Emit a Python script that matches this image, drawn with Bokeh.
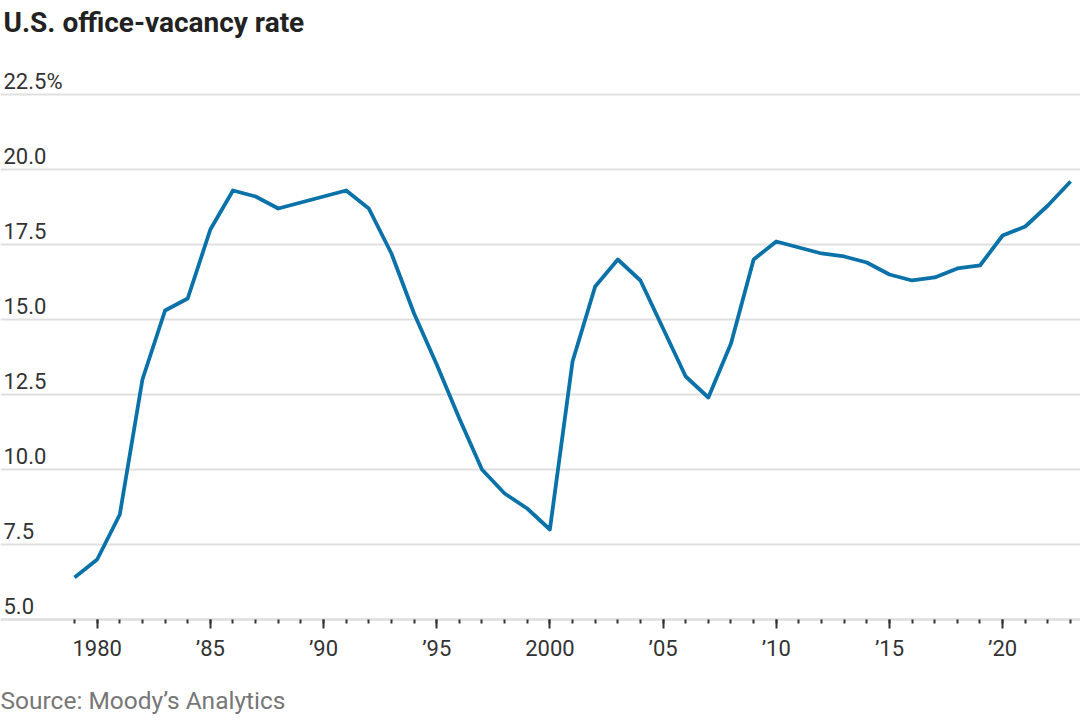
from bokeh.plotting import figure
from bokeh.models import FixedTicker, Label, ColumnDataSource, Range1d
from bokeh.core.properties import value
from bokeh.embed import file_html
from bokeh.resources import INLINE

# ---- data ----
years = list(range(1979, 2024))
vacancy = [6.4, 7.0, 8.5, 13.0, 15.3, 15.7, 18.0, 19.3, 19.1, 18.7,
           18.9, 19.1, 19.3, 18.7, 17.2, 15.2, 13.5, 11.7, 10.0, 9.2,
           8.7, 8.0, 13.6, 16.1, 17.0, 16.3, 14.7, 13.1, 12.4, 14.2,
           17.0, 17.6, 17.4, 17.2, 17.1, 16.9, 16.5, 16.3, 16.4, 16.7,
           16.8, 17.8, 18.1, 18.8, 19.6]
x_major_ticks = [1980, 1985, 1990, 1995, 2000, 2005, 2010, 2015, 2020]
x_tick_labels = ["1980", "\u201985", "\u201990", "\u201995", "2000",
                 "\u201905", "\u201910", "\u201915", "\u201920"]
y_ticks = [5.0, 7.5, 10.0, 12.5, 15.0, 17.5, 20.0, 22.5]
y_tick_labels = ["5.0", "7.5", "10.0", "12.5", "15.0", "17.5", "20.0", "22.5%"]
title_text = "U.S. office-vacancy rate"
source_text = "Source: Moody\u2019s Analytics"

FONT = "Roboto"
LINE_COLOR = "#0a72a8"

W, H = 1080, 720
x_start, x_end = 1975.73, 2023.44
y_start, y_end = 1.633, 25.633
axis_at = 5.0

p = figure(width=W, height=H, output_backend="svg", toolbar_location=None,
           x_range=Range1d(x_start, x_end), y_range=Range1d(y_start, y_end),
           min_border_left=0, min_border_right=0, min_border_top=0,
           min_border_bottom=0)
p.outline_line_color = None
p.background_fill_color = "white"
p.border_fill_color = "white"

# y axis hidden, grid kept
p.yaxis.visible = False
p.ygrid.ticker = FixedTicker(ticks=y_ticks)
p.ygrid.grid_line_color = "#e0e0e0"
p.ygrid.grid_line_width = 2
p.xgrid.visible = False

# x axis, placed on the 5.0 baseline
xa = p.xaxis[0]
xa.fixed_location = axis_at
xa.ticker = FixedTicker(ticks=x_major_ticks, minor_ticks=years)
xa.major_label_overrides = {yr: lab for yr, lab in zip(x_major_ticks, x_tick_labels)}
xa.axis_line_color = "#dddddd"
xa.axis_line_width = 2
xa.major_tick_in = 0
xa.major_tick_out = 9
xa.minor_tick_in = 0
xa.minor_tick_out = 4
xa.major_tick_line_color = "#333333"
xa.minor_tick_line_color = "#333333"
xa.major_tick_line_width = 2
xa.minor_tick_line_width = 2
xa.major_label_text_font = FONT
xa.major_label_text_font_size = "22px"
xa.major_label_text_color = "#333333"
xa.major_label_standoff = 8

# title and source
p.add_layout(Label(x=3, y=H - 22, x_units="screen", y_units="screen",
                   text=title_text, text_font=FONT, text_font_size="28px",
                   text_font_style="bold", text_color="#222222",
                   text_baseline="middle", text_align="left"))
p.add_layout(Label(x=0, y=H - 700, x_units="screen", y_units="screen",
                   text=source_text, text_font=FONT, text_font_size="24.5px",
                   text_color="#777777", text_baseline="middle",
                   text_align="left"))

# y tick labels
ysrc = ColumnDataSource(dict(x=[x_start] * len(y_ticks), y=y_ticks, t=y_tick_labels))
p.text(x="x", y="y", text="t", source=ysrc, text_font=value(FONT),
       text_font_size="22px", text_color="#333333", text_baseline="middle",
       text_align="left", x_offset=3, y_offset=-13)

# line
src = ColumnDataSource(dict(year=years, rate=vacancy))
p.line(x="year", y="rate", source=src, line_color=LINE_COLOR, line_width=3.8,
       line_join="round")

open("out.html", "w").write(file_html(p, INLINE))
